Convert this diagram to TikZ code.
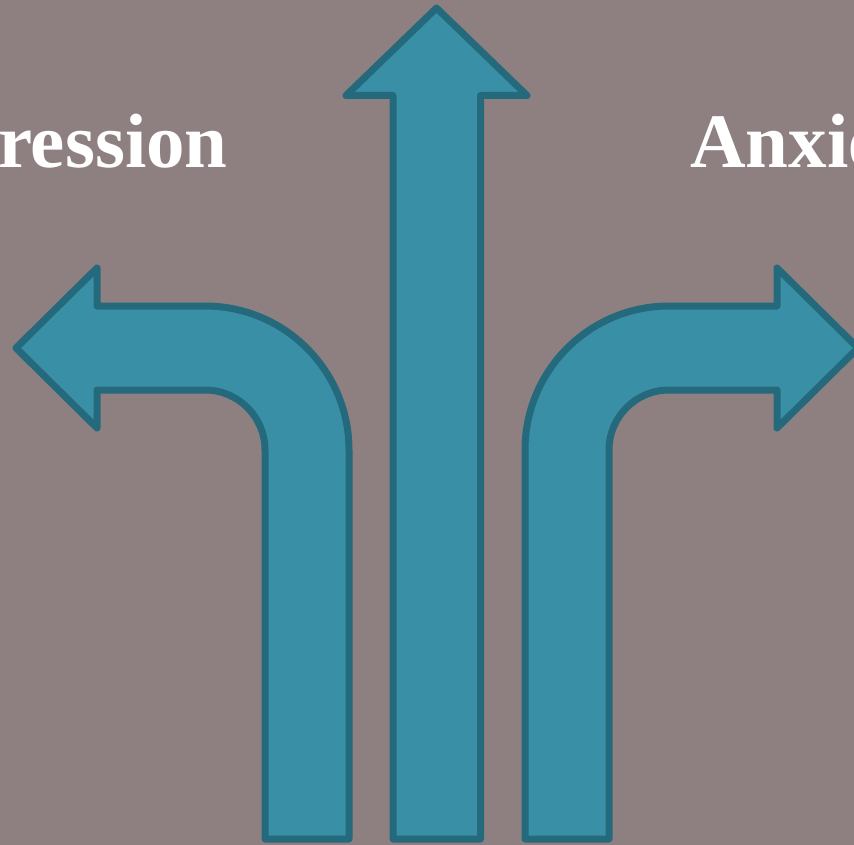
\documentclass[tikz,border=0pt]{standalone}
\usepackage{fontspec}
\setmainfont{Liberation Serif}
\definecolor{wall}{HTML}{8E8081}
\definecolor{arrowfill}{HTML}{3990A6}
\definecolor{arrowline}{HTML}{256A7C}
\begin{document}
\begin{tikzpicture}[x=1pt, y=-1pt,
  arrowbody/.style={fill=arrowfill, draw=arrowline, line width=7pt, line join=round},
  bigword/.style={text=white, inner sep=0pt, font=\fontsize{77}{77}\selectfont\bfseries}]

\useasboundingbox (0,0) rectangle (854,845);
\clip (0,0) rectangle (854,845);
\fill [wall] (0,0) rectangle (854,845);

\node [bigword, anchor=base east] (dep) at (228,168) {Depression};
\node [bigword, anchor=base west] (anx) at (690,168) {Anxiety};

% straight up
\draw [arrowbody] (393,839) -- (393,95.5) -- (346,95.5) -- (436.5,8)
  -- (527,95.5) -- (480.5,95.5) -- (480.5,839) -- cycle;

% turn left
\draw [arrowbody] (265,839) -- (265,450) arc [start angle=0, end angle=-90, radius=60]
  -- (97,390) -- (97,428) -- (16,348) -- (97,268) -- (97,306) -- (205,306)
  arc [start angle=-90, end angle=0, radius=144] -- (349,839) -- cycle;

% turn right
\draw [arrowbody] (609,839) -- (609,450) arc [start angle=180, end angle=270, radius=60]
  -- (777,390) -- (777,428) -- (858,348) -- (777,268) -- (777,306) -- (669,306)
  arc [start angle=-90, end angle=-180, radius=144] -- (525,839) -- cycle;

\end{tikzpicture}
\end{document}
